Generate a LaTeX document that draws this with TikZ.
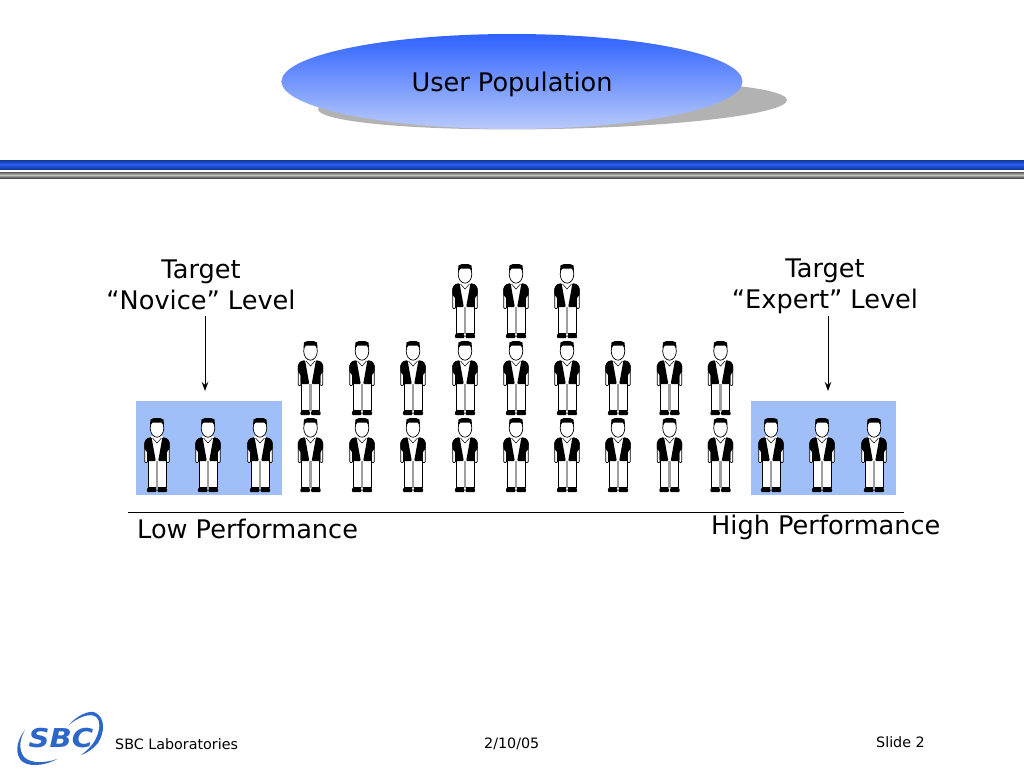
\documentclass[tikz,border=0pt]{standalone}
\usepackage{fontspec}
\setmainfont{DejaVu Sans}
\newfontfamily\logofont[FakeStretch=1.12]{DejaVu Sans}
\usetikzlibrary{arrows.meta}
\definecolor{bandblue}{HTML}{2A5CF0}
\definecolor{banddark}{HTML}{123A9A}
\definecolor{paneltop}{HTML}{2F62FF}
\definecolor{panelbot}{HTML}{B8CAFB}
\definecolor{panelblue}{HTML}{A0BEF8}
\definecolor{logoblue}{HTML}{2C66C8}
\tikzset{
  x=1pt,y=-1pt,
  big/.style={font=\fontsize{25.6}{31}\selectfont,align=center,inner sep=0pt,text=black},
  small/.style={font=\fontsize{14.3}{17}\selectfont,inner sep=0pt,anchor=west,text=black},
  panel/.style={fill=panelblue,draw=none},
  pointer/.style={draw=black,line width=1pt,-{Stealth[length=9pt,width=6.5pt]}},
  person/.pic={
    % legs
    \draw[black,line width=0.6pt,fill=white] (-9,42) -- (9,42) -- (9,69.5) -- (-9,69.5) -- cycle;
    \fill[gray!75] (-1.3,43) rectangle (1.3,69.5);
    % shoes
    \fill[black,rounded corners=1.2pt] (-10.5,74) -- (-9.5,69.5) -- (-1,69.5) -- (-0.2,74) -- cycle;
    \fill[black,rounded corners=1.2pt] (10.5,74) -- (9.5,69.5) -- (1,69.5) -- (0.2,74) -- cycle;
    % arms
    \draw[black,line width=0.7pt,fill=white,rounded corners=1pt] (-12.3,24) -- (-12.3,44.5) -- (-9.5,44.5) -- (-9.5,24) -- cycle;
    \draw[black,line width=0.7pt,fill=white,rounded corners=1pt] (12.3,24) -- (12.3,44.5) -- (9.5,44.5) -- (9.5,24) -- cycle;
    % shirt
    \fill[white] (-6,18) rectangle (6,43);
    % jacket
    \fill[black,rounded corners=1pt] (-5.5,19) -- (-10.5,20.5) -- (-12.6,24) -- (-12.6,31) -- (-9.8,34) -- (-9.8,43) -- (-1.2,43) -- cycle;
    \fill[black,rounded corners=1pt] (5.5,19) -- (10.5,20.5) -- (12.6,24) -- (12.6,31) -- (9.8,34) -- (9.8,43) -- (1.2,43) -- cycle;
    % collar
    \draw[black,line width=0.5pt] (-4.5,20) -- (0,25) -- (4.5,20);
    % head
    \draw[black,line width=0.7pt,fill=white] (0,10) ellipse [x radius=6.8,y radius=9.2];
    \fill[black] (-7,7) -- (-6.5,1.5) -- (-3,0) -- (3,0) -- (6.5,1.5) -- (7,7) -- (4.5,4.5) -- (-4.5,4.5) -- cycle;
  }
}
\begin{document}
\begin{tikzpicture}
\useasboundingbox (0,0) rectangle (1024,768);
\fill[white] (0,0) rectangle (1024,768);
% title
\fill[black!30,rotate around={1.1:(552.5,104.5)}] (552.5,104.5) ellipse [x radius=234.5,y radius=24.5];
\shade[top color=paneltop,bottom color=panelbot] (512,81.5) ellipse [x radius=230.5,y radius=47.5];
\node[big] (title) at (512,84.5) {User Population};
% bands
\shade[top color=banddark,bottom color=bandblue] (0,160) rectangle (1024,164.5);
\shade[top color=bandblue,bottom color=banddark] (0,164.5) rectangle (1024,169);
\shade[top color=black!65,bottom color=black!25] (0,172) rectangle (1024,175);
\shade[top color=black!25,bottom color=black!70] (0,175) rectangle (1024,178);
% panels
\fill[panel] (136,401) rectangle (282,495);
\fill[panel] (751,401) rectangle (896,495);
% people
\foreach \px in {465,516,567}
  \pic at (\px,264) {person};
\foreach \px in {310.5,362,413,465,516,567,618,669.5,720.5} {
  \pic at (\px,341) {person};
  \pic at (\px,418) {person};
}
\foreach \px in {157,208,260,771,822,874}
  \pic at (\px,418) {person};
% labels
\node[big] (novice) at (201,285) {Target\\“Novice” Level};
\node[big] (expert) at (825,286.5) {Target\\“Expert” Level};
\node[big,anchor=west] (low) at (137,529) {Low Performance};
\node[big,anchor=west] (high) at (711,527) {High Performance};
% arrows
\coordinate (noviceend) at (205,391);
\coordinate (expertend) at (828,391);
\coordinate (novicestart) at (205,316);
\coordinate (expertstart) at (828,316);
\draw[pointer] (novicestart) -- (noviceend);
\draw[pointer] (expertstart) -- (expertend);
% axis
\coordinate (axisl) at (128,512);
\coordinate (axisr) at (904,512);
\draw[black,line width=1pt] (axisl) -- (axisr);
% footer
\node[small] (lab) at (115,744) {SBC Laboratories};
\node[small] (date) at (484,744) {2/10/05};
\node[small] (slide) at (876,742) {Slide 2};
% logo
\fill[logoblue] (69,725) .. controls (76,716) and (90,709) .. (96,713) .. controls (105,718) and (105,732) .. (98,743) .. controls (93,749) and (87,753) .. (81,755) .. controls (88,750) and (94,744) .. (97,736) .. controls (101,726) and (100,717) .. (93,715.5) .. controls (87,714) and (77,718) .. (69,725) -- cycle;
\fill[logoblue] (25,730) .. controls (19,737) and (14,750) .. (20,759) .. controls (26,768) and (45,766) .. (57,759) .. controls (46,763) and (31,764) .. (24,757) .. controls (18,749) and (20,738) .. (25,730) -- cycle;
\node[font=\logofont\bfseries\itshape\fontsize{26}{26}\selectfont,text=logoblue,inner sep=0pt] (logo) at (61,738) {SBC};
\end{tikzpicture}
\end{document}
